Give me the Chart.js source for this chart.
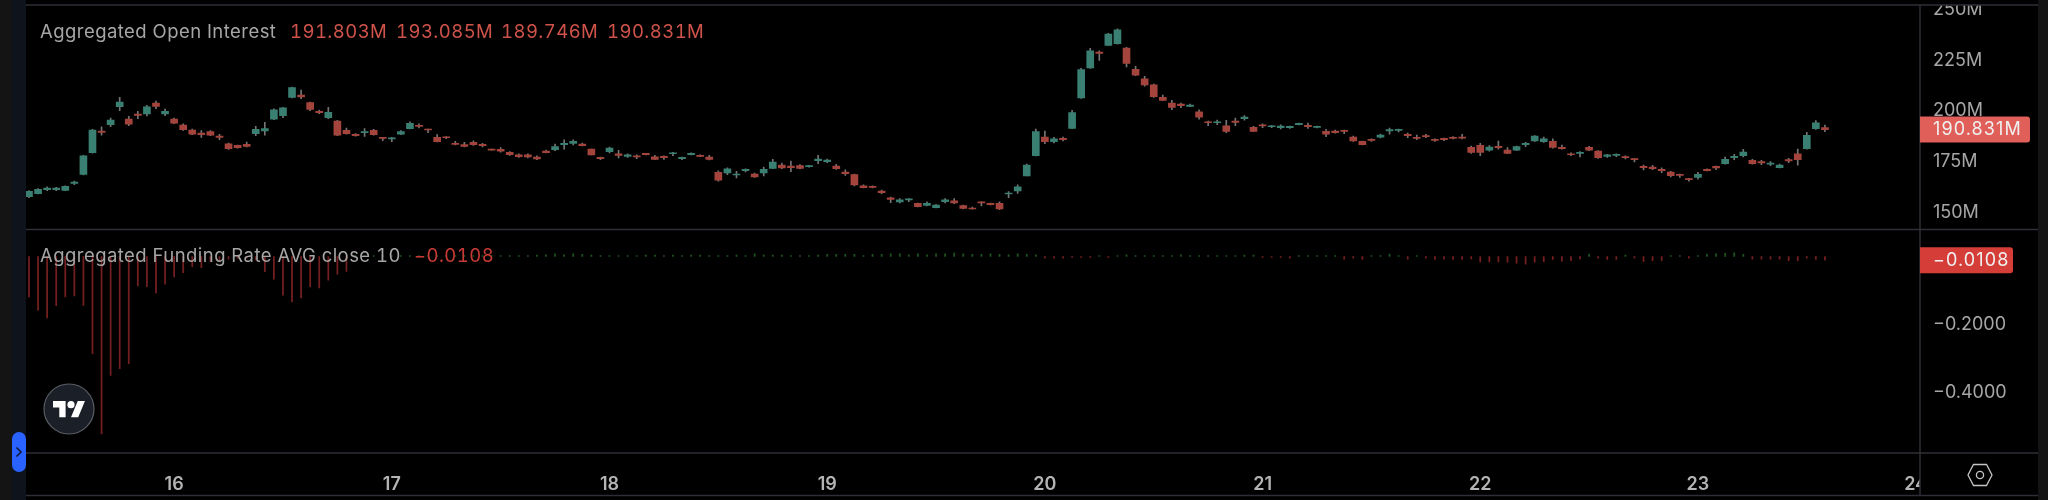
<!DOCTYPE html>
<html>
<head>
<meta charset="utf-8">
<script src="https://cdn.jsdelivr.net/npm/chart.js@4"></script>
<style>
  html, body { margin: 0; padding: 0; background: #000; }
  #wrap { position: relative; width: 2048px; height: 500px; overflow: hidden; background: #000; font-family: Inter, "Noto Sans", sans-serif; }
  #chart { position: absolute; left: 0; top: 0; }
  #stripOuter { position: absolute; left: 0; top: 0; width: 12px; height: 500px; background: #141414; }
  #stripInner { position: absolute; left: 12px; top: 0; width: 14px; height: 500px; background: #0e131c; }
  #stripRight { position: absolute; left: 2038px; top: 0; width: 10px; height: 500px; background: #141414; }
  #handle { position: absolute; left: 12px; top: 432px; width: 14px; height: 40px; background: #2962ff; border-radius: 7px; }
  #handle svg { position: absolute; left: 3px; top: 14px; }
  .legend { position: absolute; left: 40px; font-size: 18.5px; line-height: 22px; color: #a6a6a6; white-space: pre; letter-spacing: 0.45px; font-variant-numeric: tabular-nums; }
  .legend span { position: absolute; top: 0; }
  #logo { position: absolute; left: 43px; top: 383px; }
  #gear { position: absolute; left: 1965px; top: 461px; }
</style>
</head>
<body>
<div id="wrap">
  <canvas id="chart" width="2048" height="500"></canvas>
  <div id="stripOuter"></div>
  <div id="stripInner"></div>
  <div id="stripRight"></div>
  <div id="handle"><svg width="8" height="12" viewBox="0 0 8 12"><path d="M1.5 1.5 L6 6 L1.5 10.5" fill="none" stroke="#0e1a3a" stroke-width="1.6"/></svg></div>
  <div class="legend" id="legendOi" style="top:20px">Aggregated Open Interest<span id="oiO" style="left:250px"></span><span id="oiH" style="left:356px"></span><span id="oiL" style="left:461px"></span><span id="oiC" style="left:567px"></span></div>
  <div class="legend" id="legendFr" style="top:244px">Aggregated Funding Rate AVG close 10<span id="frV" style="left:374px"></span></div>
  <svg id="logo" width="52" height="52" viewBox="0 0 52 52">
    <circle cx="26" cy="26" r="25" fill="#1b1f27" stroke="#5a5d63" stroke-width="1.2"/>
    <g transform="translate(10 14.5) scale(0.9)" fill="#fff">
      <path d="M14 22H7V11H0V4h14v18zM28 22h-8l7.5-18h8L28 22z"/>
      <circle cx="20" cy="8" r="4"/>
    </g>
  </svg>
  <svg id="gear" width="30" height="28" viewBox="0 0 30 28">
    <path d="M8.5 3.5 H21.5 L27 14 L21.5 24.5 H8.5 L3 14 Z" fill="none" stroke="#c4c4c4" stroke-width="1.3"/>
    <circle cx="15" cy="14" r="3.6" fill="none" stroke="#c4c4c4" stroke-width="1.3"/>
  </svg>
</div>

<script>
// valores, velas de 1 hora, en millones
const opens = [
  157.7,159.2,161.2,161.2,160.8,164.3,168.7,179.4,190.1,193.2,
  202.1,196.0,198.5,198.5,203.9,198.5,196.0,193.0,190.6,189.1,
  189.8,187.6,183.8,183.0,183.5,188.8,190.1,195.9,197.7,206.7,
  207.9,204.2,199.8,196.7,195.0,190.4,188.5,189.3,190.4,186.8,
  186.2,188.5,191.3,192.9,190.9,187.0,187.1,184.0,183.4,184.5,
  183.5,181.0,181.1,179.6,178.3,178.3,177.3,180.2,180.9,183.4,
  184.0,183.7,181.2,177.1,179.9,178.8,177.6,177.8,179.1,177.4,
  177.6,178.9,176.5,178.4,178.1,177.3,169.7,169.4,168.4,170.5,
  168.9,169.4,171.7,173.3,172.8,173.0,172.5,175.5,175.0,172.8,
  169.9,168.6,163.0,162.8,160.5,157.1,155.1,156.1,154.4,153.4,
  152.3,155.2,155.6,153.3,152.1,155.1,154.4,154.4,159.0,160.5,
  168.0,177.9,187.1,184.8,186.5,191.4,206.4,221.2,229.1,232.4,
  233.2,231.0,220.5,215.9,212.9,206.7,203.9,203.4,202.3,199.6,
  194.7,194.2,192.7,195.0,196.2,191.9,193.1,192.2,191.8,191.8,
  193.2,192.9,191.9,189.9,190.1,190.4,187.1,185.0,186.0,187.1,
  190.1,190.4,188.5,187.0,187.9,186.0,186.5,187.0,187.1,182.0,
  183.0,180.6,182.5,180.7,180.7,183.4,185.2,184.8,185.0,182.0,
  178.9,179.1,182.0,180.2,177.6,178.1,177.4,176.3,172.7,172.3,
  171.2,169.9,168.7,166.6,167.2,171.2,172.7,174.0,177.0,177.9,
  175.6,175.0,173.7,172.0,176.0,178.8,181.4,191.3,191.803
];
const highs = [
  160.7,161.7,162.5,162.3,163.1,165.4,178.1,190.9,192.2,196.5,
  206.7,197.3,199.8,202.8,204.9,200.9,196.5,193.6,191.1,190.3,
  190.3,188.5,184.2,183.2,184.7,192.4,194.4,201.0,201.8,211.8,
  210.3,204.4,200.5,201.8,195.4,191.6,188.9,191.3,190.9,187.0,
  187.0,190.3,194.7,193.7,191.1,188.3,187.3,185.0,184.5,185.3,
  184.0,181.2,181.9,179.9,178.8,178.8,177.8,180.7,183.7,185.7,
  185.7,184.2,181.2,177.3,182.2,180.6,178.8,178.3,179.1,178.1,
  177.9,179.6,177.3,179.3,178.3,178.1,170.4,171.9,170.2,171.4,
  169.4,172.3,176.1,174.3,175.3,173.5,173.2,178.1,176.3,173.7,
  170.9,168.9,163.5,163.0,161.0,157.5,156.7,156.7,154.6,155.1,
  153.8,156.7,156.7,153.6,152.6,155.1,154.6,155.1,160.2,163.5,
  173.8,191.1,190.1,187.0,187.1,200.3,221.0,230.9,229.7,238.3,
  240.6,231.4,222.0,217.1,213.3,207.9,205.2,203.9,203.4,200.6,
  195.0,195.5,195.4,196.5,197.7,192.4,193.6,192.9,193.1,192.6,
  194.0,194.0,192.6,190.9,190.6,190.6,187.6,185.2,186.2,188.6,
  191.6,191.1,189.1,188.1,188.5,186.2,186.6,187.3,188.5,182.7,
  184.0,182.9,185.2,181.9,182.7,184.5,187.8,187.1,186.3,183.2,
  179.4,179.9,182.5,180.4,178.6,178.9,177.8,176.5,173.3,173.2,
  171.9,170.2,168.9,166.8,169.7,171.5,172.8,177.3,178.6,181.1,
  176.1,175.6,175.0,173.8,176.6,181.2,189.4,195.2,193.085
];
const lows = [
  157.2,159.0,160.7,160.7,160.7,163.6,168.4,179.2,188.1,192.2,
  200.1,192.7,196.2,197.5,201.1,197.7,193.7,190.4,188.3,187.0,
  187.8,185.8,181.0,181.7,182.2,187.8,188.1,195.7,196.7,206.4,
  206.1,200.1,198.7,196.2,187.8,188.6,187.6,187.5,188.0,185.3,
  184.8,188.3,191.1,191.6,189.3,184.7,186.3,183.2,182.2,183.0,
  182.2,180.6,179.7,178.1,177.1,176.8,176.0,179.3,180.4,181.2,
  183.2,182.7,178.3,176.0,179.3,176.8,177.1,176.5,178.3,176.0,
  176.1,177.9,176.0,178.3,177.4,175.8,165.4,168.6,166.9,169.9,
  167.2,167.9,171.5,171.5,170.0,171.4,172.3,174.0,174.5,171.2,
  168.2,163.0,162.0,162.0,159.2,154.8,154.6,155.2,152.6,153.1,
  152.1,154.6,154.3,151.6,151.5,153.1,153.6,151.3,157.2,159.3,
  167.9,177.8,183.8,184.2,185.2,191.3,206.2,221.0,225.0,232.2,
  233.0,221.7,217.4,212.3,206.7,205.1,200.6,201.6,202.1,196.0,
  192.7,193.2,189.3,192.7,195.5,189.8,191.8,191.8,191.1,191.4,
  193.1,191.4,191.6,187.3,189.0,188.8,185.0,183.2,185.0,186.7,
  188.5,189.6,186.8,185.8,186.8,185.0,185.3,186.2,186.2,179.1,
  177.9,180.2,181.2,178.9,180.4,182.4,185.0,184.5,181.7,181.1,
  177.9,177.3,180.4,176.6,177.1,177.4,176.3,174.8,170.9,171.0,
  169.6,167.4,167.2,165.4,166.3,170.4,171.0,173.8,176.0,177.3,
  173.8,173.5,173.0,171.9,174.5,173.3,181.2,190.9,189.746
];
const closes = [
  160.3,161.3,162.0,162.0,162.8,164.9,177.8,190.6,189.4,195.5,
  204.4,193.5,197.8,202.1,202.3,199.8,194.0,190.8,188.5,188.3,
  188.1,187.0,181.4,181.9,182.5,190.9,191.3,200.6,201.5,211.6,
  206.9,200.8,199.1,199.3,188.1,188.8,187.8,189.6,188.3,186.5,
  186.5,189.8,193.9,192.4,190.6,184.8,186.8,183.5,182.5,183.4,
  182.9,180.7,180.2,178.4,177.4,177.3,176.3,179.4,182.4,184.0,
  185.0,182.9,178.3,176.5,181.7,178.0,178.3,177.3,178.4,176.1,
  177.0,179.4,177.1,179.1,177.6,176.1,165.9,171.5,168.9,171.2,
  167.4,171.2,174.8,171.9,172.0,171.7,173.0,176.3,175.8,171.5,
  169.1,163.5,162.1,162.3,159.7,156.4,156.1,156.6,152.8,154.4,
  153.6,156.1,154.6,151.9,151.6,154.6,153.8,151.6,159.5,162.6,
  173.3,189.8,184.8,186.2,185.8,199.2,220.4,229.7,228.4,237.9,
  240.1,223.5,217.7,212.9,207.0,205.2,201.8,202.6,202.9,197.0,
  194.2,194.7,189.9,194.4,197.0,189.9,192.6,192.7,192.6,192.4,
  193.9,192.2,192.4,188.5,189.3,189.9,185.2,183.4,185.5,188.1,
  190.8,190.9,187.8,186.5,187.3,185.5,185.8,186.5,186.6,179.6,
  179.6,182.2,181.9,179.1,182.4,184.0,187.6,186.2,182.0,181.4,
  178.4,179.4,180.7,177.0,178.3,178.6,177.0,176.0,172.0,171.5,
  170.5,168.1,168.2,166.1,168.7,170.5,171.9,176.1,177.6,179.7,
  174.0,174.3,174.3,173.3,175.3,176.0,188.0,194.2,190.831
];
const funding = [
  -0.119,-0.158,-0.181,-0.145,-0.119,-0.116,-0.144,-0.287,-0.523,-0.351,
  -0.331,-0.316,-0.087,-0.089,-0.108,-0.082,-0.060,-0.048,-0.030,-0.033,
  -0.015,-0.012,-0.008,-0.006,-0.005,-0.010,-0.045,-0.067,-0.114,-0.134,
  -0.122,-0.089,-0.093,-0.070,-0.052,-0.044,0.002,0.002,0.002,0.002,
  0.002,0.002,0.002,0.002,0.002,0.002,0.002,0.002,0.002,0.002,
  0.002,0.002,0.002,0.002,0.002,0.003,0.004,0.005,0.008,0.005,
  0.008,0.006,0.004,0.003,0.003,0.003,0.003,0.003,0.004,0.004,
  0.003,0.004,0.003,0.004,0.004,0.003,0.003,0.003,0.004,0.003,
  0.008,0.005,0.004,0.004,0.003,0.003,0.003,0.004,0.006,0.006,
  0.006,0.006,0.001,0.006,0.006,0.008,0.008,0.005,0.008,0.005,
  0.008,0.008,0.010,0.008,0.006,0.006,0.008,0.006,0.005,0.008,
  0.006,0.005,-0.005,-0.005,-0.005,-0.003,-0.003,-0.003,0.003,-0.003,
  0.002,0.005,0.002,0.002,0.002,0.002,0.003,0.005,0.002,0.002,
  0.003,0.002,0.002,0.003,0.004,0.004,-0.003,-0.003,-0.003,-0.005,
  0.002,0.003,0.002,0.003,0.003,-0.008,-0.005,-0.009,0.003,0.003,
  0.007,0.003,-0.008,0.003,-0.005,-0.009,-0.008,-0.009,-0.009,-0.007,
  -0.016,-0.016,-0.016,-0.017,-0.020,-0.023,-0.017,-0.015,-0.009,-0.014,
  -0.012,-0.007,0.007,-0.005,-0.009,-0.009,0.004,-0.005,-0.015,-0.012,
  -0.012,0.003,0.003,-0.005,0.003,0.007,0.008,0.009,0.011,0.006,
  -0.008,-0.008,-0.008,-0.008,-0.012,-0.012,-0.005,-0.009,-0.0108
];
const dayLabels = ["16","17","18","19","20","21","22","23","24"];
const dayPositions = [16,40,64,88,112,136,160,184,208]; // vela donde empieza cada dia
const priceTicks = [150,175,200,225,250];
const fundingTicks = [-0.2,-0.4];

const upColor = "#397f72", downColor = "#a4443d", wickColor = "#757575";
const fundUp = "#1f5420", fundDown = "#741f1f";
const lineColor = "#2e2e36";
const minus = "\u2212";

const fmtFunding = v => minus + Math.abs(v).toFixed(4);
const last = closes.length - 1;

document.getElementById("oiO").textContent = opens[last].toFixed(3) + "M";
document.getElementById("oiH").textContent = highs[last].toFixed(3) + "M";
document.getElementById("oiL").textContent = lows[last].toFixed(3) + "M";
document.getElementById("oiC").textContent = closes[last].toFixed(3) + "M";
document.getElementById("frV").textContent = fmtFunding(funding[last]);
["oiO","oiH","oiL","oiC"].forEach(id => document.getElementById(id).style.color = "#cf534a");
document.getElementById("frV").style.color = "#c83a34";

const candleColors = closes.map((c, i) => c >= opens[i] ? upColor : downColor);

// marco de los paneles y etiquetas de ultimo valor
const paneFrame = {
  id: "paneFrame",
  afterDraw(chart) {
    const { ctx, chartArea, scales } = chart;
    const splitY = scales.y.bottom;
    ctx.save();
    // tapa lo que se sale arriba y el "24" bajo la columna de precios
    ctx.fillStyle = "#000";
    ctx.fillRect(chartArea.right, 0, 118, chartArea.top);
    ctx.fillRect(chartArea.right, chartArea.bottom, 118, 43);

    ctx.strokeStyle = lineColor;
    ctx.lineWidth = 1.5;
    ctx.beginPath();
    [chartArea.top, splitY, chartArea.bottom, chartArea.bottom + 42.5].forEach(y => {
      ctx.moveTo(chartArea.left, y);
      ctx.lineTo(2038, y);
    });
    ctx.moveTo(chartArea.right, chartArea.top);
    ctx.lineTo(chartArea.right, chartArea.bottom + 42.5);
    ctx.stroke();

    const tag = (y, w, bg, text) => {
      ctx.fillStyle = bg;
      ctx.beginPath();
      ctx.roundRect(chartArea.right, y - 13, w, 26, [0, 3, 3, 0]);
      ctx.fill();
      ctx.fillStyle = "#f0f0f0";
      ctx.font = "18px Inter";
      ctx.letterSpacing = "1.1px";
      ctx.textBaseline = "middle";
      ctx.textAlign = "left";
      ctx.fillText(text, chartArea.right + 13, y + 0.5);
      ctx.letterSpacing = "0px";
    };
    tag(scales.y.getPixelForValue(closes[last]), 110, "#e05f59", closes[last].toFixed(3) + "M");
    tag(scales.yF.getPixelForValue(funding[last]) , 93, "#d53e38", fmtFunding(funding[last]));
    ctx.restore();
  }
};

new Chart(document.getElementById("chart"), {
  type: "bar",
  data: {
    datasets: [
      {
        label: "wick",
        yAxisID: "y",
        data: closes.map((c, i) => ({ x: i, y: [lows[i], highs[i]] })),
        backgroundColor: wickColor,
        barThickness: 1,
        order: 2
      },
      {
        label: "body",
        yAxisID: "y",
        data: closes.map((c, i) => ({ x: i, y: [opens[i], c] })),
        backgroundColor: candleColors,
        barThickness: 7,
        minBarLength: 1,
        order: 1
      },
      {
        label: "funding",
        yAxisID: "yF",
        data: funding.map((v, i) => ({ x: i, y: v })),
        backgroundColor: funding.map(v => v >= 0 ? fundUp : fundDown),
        barThickness: 1.1,
        minBarLength: 1,
        order: 3
      }
    ]
  },
  options: {
    responsive: false,
    animation: false,
    events: [],
    datasets: { bar: { grouped: false } },
    layout: { padding: { left: 26, right: 10, top: 5, bottom: 4 } },
    plugins: { legend: { display: false }, tooltip: { enabled: false } },
    scales: {
      x: {
        type: "linear",
        offset: false,
        min: -0.33,
        max: 208.48,
        grid: { display: false },
        border: { display: false },
        afterFit: s => { s.height = 43; s.paddingLeft = 0; s.paddingRight = 0; },
        afterBuildTicks: s => { s.ticks = dayPositions.map(v => ({ value: v })); },
        ticks: {
          autoSkip: false,
          maxRotation: 0,
          padding: 13,
          color: "#b4b4b4",
          font: { family: "Inter", size: 18, weight: "600" },
          callback: v => dayLabels[dayPositions.indexOf(v)]
        }
      },
      y: {
        position: "right",
        stack: "panes",
        stackWeight: 224.5,
        min: 141.5,
        max: 252.3,
        grid: { display: false, drawTicks: false },
        border: { display: false },
        afterFit: s => { s.width = 118; s.paddingTop = 0; s.paddingBottom = 0; },
        afterBuildTicks: s => { s.ticks = priceTicks.map(v => ({ value: v })); },
        ticks: {
          padding: 13,
          color: "#a6a6a6",
          font: { family: "Inter", size: 18 },
          callback: v => v + "M"
        }
      },
      yF: {
        position: "right",
        stack: "panes",
        stackWeight: 223.5,
        min: -0.5796,
        max: 0.0796,
        grid: { display: false, drawTicks: false },
        border: { display: false },
        afterFit: s => { s.width = 118; s.paddingTop = 0; s.paddingBottom = 0; },
        afterBuildTicks: s => { s.ticks = fundingTicks.map(v => ({ value: v })); },
        ticks: {
          padding: 13,
          color: "#a6a6a6",
          font: { family: "Inter", size: 18 },
          callback: v => fmtFunding(v)
        }
      }
    }
  },
  plugins: [paneFrame]
});
</script>
</body>
</html>
